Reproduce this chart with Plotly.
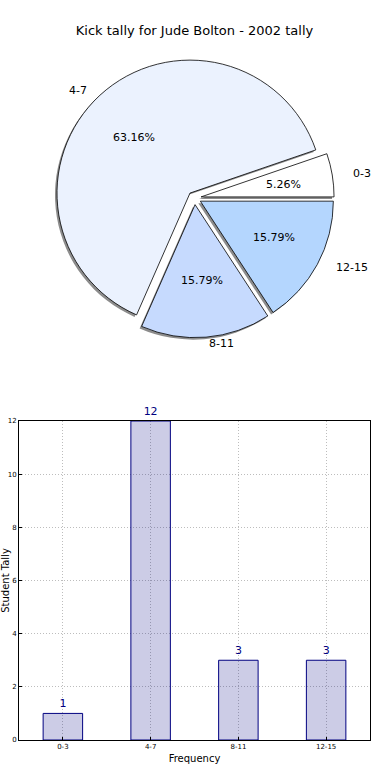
import math
import plotly.graph_objects as go

categories = ["0-3", "4-7", "8-11", "12-15"]
tally = [1, 12, 3, 3]
pie_colors = ["#FFFFFF", "#EBF2FE", "#C6DAFE", "#B4D6FE"]
explode = [0.05, 0.05, 0.05, 0.05]
title_text = "Kick tally for Jude Bolton - 2002 tally"
x_title = "Frequency"
y_title = "Student Tally"
y_ticks = [0, 2, 4, 6, 8, 10, 12]

FONT = "DejaVu Sans"
W, H = 390, 780
ML, MR, MT, MB = 19, 20, 20, 40
PW = W - ML - MR
PH = H - MT - MB

# pie geometry (pixels)
CX, CY = 195, 198
R = 133            # plotly pie radius (circle)
RX, RY = 138, 127  # scale used for text placement
LABEL_DIST, PCT_DIST = 1.1, 0.6
cyf = (H - MB - CY) / PH
half_h = R * (2 + 2 * max(explode)) / 2 / PH
dom_y = [cyf - half_h, cyf + half_h]
dom_x = [0.05, 0.95]
dx = 2 / PW
dy = 2 / PH

total = sum(tally)
start_rot = 90 - 360 * tally[0] / total

fig = go.Figure()

common = dict(labels=categories, values=tally, sort=False, direction="counterclockwise",
              rotation=start_rot, pull=explode, hoverinfo="skip", textinfo="none",
              showlegend=False)

# shadow
fig.add_trace(go.Pie(**common,
                     marker=dict(colors=["#8c8c8c"] * 4, line=dict(width=0)),
                     domain=dict(x=[dom_x[0] - dx, dom_x[1] - dx], y=[dom_y[0] - dy, dom_y[1] - dy])))
# slices
fig.add_trace(go.Pie(**common,
                     marker=dict(colors=pie_colors, line=dict(color="#000000", width=0.8)),
                     domain=dict(x=dom_x, y=dom_y)))

# bar chart
fig.add_trace(go.Bar(x=categories, y=tally, width=0.45,
                     marker=dict(color="rgba(0,0,128,0.2)", line=dict(color="#000080", width=1)),
                     text=[str(v) for v in tally], textposition="outside",
                     textfont=dict(family=FONT, size=11, color="#000080"),
                     cliponaxis=False, showlegend=False, hoverinfo="skip"))

# hidden overlay axes carrying the pie text (1 unit = RX px horizontally, RY px vertically)
fig.add_trace(go.Scatter(x=[0], y=[0], mode="markers", marker=dict(opacity=0),
                         xaxis="x2", yaxis="y2", showlegend=False, hoverinfo="skip"))

# pie text: labels outside, percentages inside (from exploded centre)
annotations = []
cum = 0
for lab, v, e in zip(categories, tally, explode):
    theta = math.radians(360 * (cum + v / 2) / total)
    c, s = math.cos(theta), math.sin(theta)
    annotations.append(dict(x=(LABEL_DIST + e) * c, y=(LABEL_DIST + e) * s, xref="x2", yref="y2",
                            text=lab, showarrow=False, borderpad=0,
                            xanchor="left" if c > 0 else "right", yanchor="middle",
                            font=dict(family=FONT, size=11, color="#000000")))
    annotations.append(dict(x=(PCT_DIST + e) * c, y=(PCT_DIST + e) * s, xref="x2", yref="y2",
                            text=f"{100 * v / total:.2f}%", showarrow=False,
                            xanchor="center", yanchor="middle",
                            font=dict(family=FONT, size=11, color="#000000")))
    cum += v

bar_top = (H - MB - 421) / PH

y2_top_px, y2_bot_px = MT, 400
y2_dom = [(H - MB - y2_bot_px) / PH, 1]
x2_range = [(ML - CX) / RX, (W - MR - CX) / RX]
y2_range = [-(y2_bot_px - CY) / RY, (CY - y2_top_px) / RY]

grid = dict(showgrid=True, gridcolor="#bdbdbd", griddash="1px,2px", gridwidth=1)
hidden = dict(visible=False, showgrid=False, zeroline=False, fixedrange=True)

fig.update_layout(
    width=W, height=H,
    margin=dict(l=ML, r=MR, t=MT, b=MB, autoexpand=False),
    paper_bgcolor="white", plot_bgcolor="white",
    font=dict(family=FONT, color="#000000"),
    title=dict(text=title_text, x=0.5, xref="paper", y=1 - 30 / H, yanchor="middle",
               font=dict(family=FONT, size=13, color="#000000")),
    xaxis=dict(domain=[0, 1], range=[-0.5, 3.5], type="category",
               showline=True, linecolor="#000000", linewidth=1, mirror=True,
               ticks="inside", ticklen=3, tickcolor="#000000",
               tickfont=dict(family=FONT, size=7, color="#000000"),
               title=dict(text=x_title, font=dict(family=FONT, size=10), standoff=4),
               automargin=False, zeroline=False, fixedrange=True, **grid),
    yaxis=dict(domain=[0, bar_top], range=[0, 12], tickvals=y_ticks,
               showline=True, linecolor="#000000", linewidth=1, mirror=True,
               ticks="inside", ticklen=3, tickcolor="#000000",
               tickfont=dict(family=FONT, size=7, color="#000000"),
               title=dict(text=y_title, font=dict(family=FONT, size=10), standoff=10),
               automargin=False, zeroline=False, fixedrange=True, **grid),
    xaxis2=dict(domain=[0, 1], range=x2_range, anchor="y2", **hidden),
    yaxis2=dict(domain=y2_dom, range=y2_range, anchor="x2", **hidden),
    annotations=annotations,
    bargap=0.55,
)

fig.write_html("out.html", config={"displayModeBar": False},
               post_script="document.body.style.margin='0';")
